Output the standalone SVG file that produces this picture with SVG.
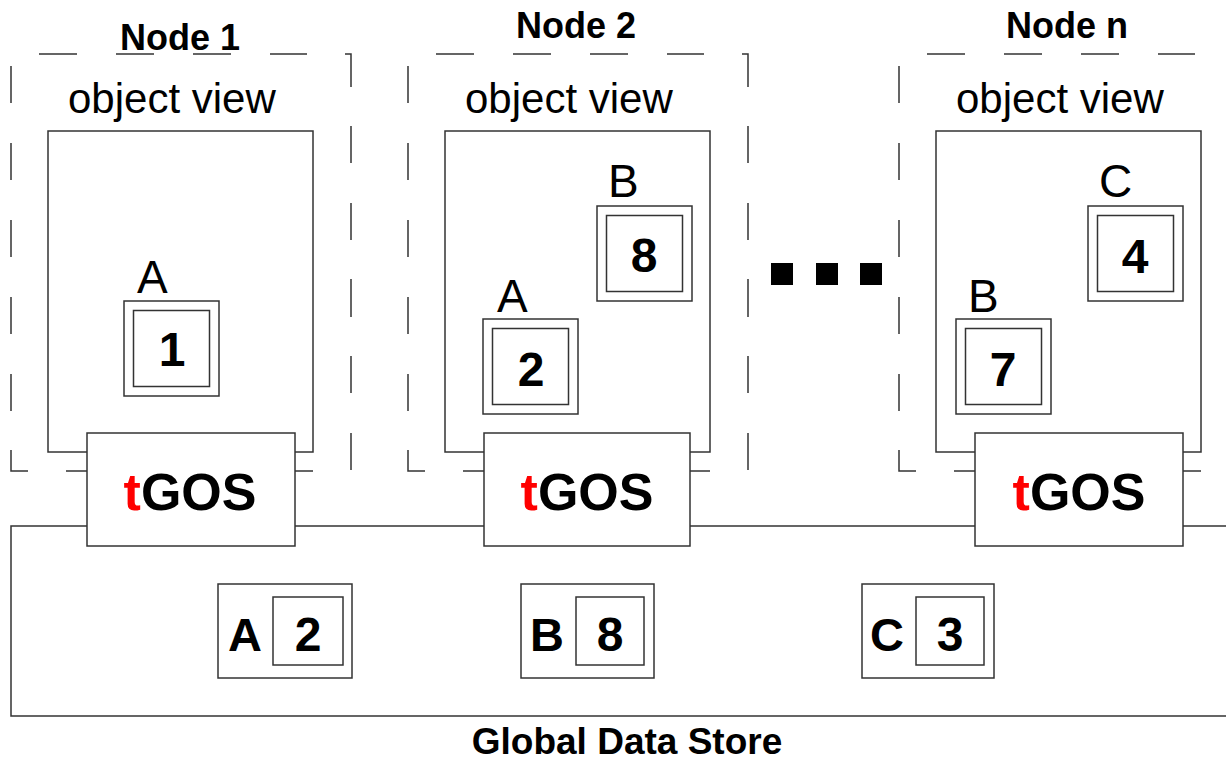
<svg xmlns="http://www.w3.org/2000/svg" width="1226" height="761" viewBox="0 0 1226 761">
  <style>
    .ln { fill: none; stroke: #333; stroke-width: 1.5; }
    .box { fill: #fff; stroke: #333; stroke-width: 1.5; }
    .dot { fill: #000; }
    .reg { font-family: "Liberation Sans", Arial, sans-serif; fill: #000; }
    .bold { font-family: "Liberation Sans", Arial, sans-serif; font-weight: bold; fill: #000; }
    .title { font-size: 36px; }
    .view { font-size: 42px; }
    .lbl { font-size: 46px; }
    .num { font-size: 48px; text-anchor: middle; }
    .gos { font-size: 52px; text-anchor: middle; }
    .red { fill: #ff0000; }
  </style>
  <defs>
    <!-- dashed node frame, 340 x 417, origin at its top-left corner -->
    <path id="frame" class="ln" d="M28,0h38M105,0h38M182,0h38M259,0h37M334,0h6v33
      M340,72v37M340,149v37M340,225v38M340,302v37M340,379v37
      M0,12v37M0,89v37M0,166v37M0,243v37M0,320v37M0,396v21h17
      M55,417h32M262,417h40"/>
    <!-- object: outer square with inset inner square -->
    <g id="obj">
      <rect class="box" x="0" y="0" width="95" height="95"/>
      <rect class="box" x="9.5" y="9.5" width="76" height="76"/>
    </g>
  </defs>

  <rect width="1226" height="761" fill="#fff"/>

  <!-- global data store outline; its top edge links the tGOS boxes -->
  <g id="connectors">
    <path class="ln" d="M1240,526H11V716H1240"/>
  </g>

  <g id="node1">
    <use href="#frame" x="11" y="54"/>
    <text class="bold title" x="120" y="50">Node 1</text>
    <text class="reg view" x="68" y="113">object view</text>
    <rect class="ln" x="48" y="131" width="265" height="321"/>
    <text class="reg lbl" x="137" y="293">A</text>
    <use href="#obj" x="124" y="301"/>
    <text class="bold num" x="172" y="366">1</text>
    <rect class="box" x="87" y="433" width="208" height="113"/>
    <text class="bold gos" x="190" y="510"><tspan class="red">t</tspan>GOS</text>
  </g>

  <g id="node2">
    <use href="#frame" x="408" y="54"/>
    <text class="bold title" x="516" y="38">Node 2</text>
    <text class="reg view" x="465" y="113">object view</text>
    <rect class="ln" x="445" y="131" width="265" height="321"/>
    <text class="reg lbl" x="608" y="197">B</text>
    <use href="#obj" x="597" y="206"/>
    <text class="bold num" x="644" y="272">8</text>
    <text class="reg lbl" x="497" y="312">A</text>
    <use href="#obj" x="483" y="319"/>
    <text class="bold num" x="531" y="386">2</text>
    <rect class="box" x="484" y="433" width="206" height="113"/>
    <text class="bold gos" x="587" y="510"><tspan class="red">t</tspan>GOS</text>
  </g>

  <g id="ellipsis">
    <rect class="dot" x="771" y="263" width="22" height="22"/>
    <rect class="dot" x="816" y="263" width="22" height="22"/>
    <rect class="dot" x="860" y="263" width="22" height="22"/>
  </g>

  <g id="noden">
    <use href="#frame" x="899" y="54"/>
    <text class="bold title" x="1006" y="38">Node n</text>
    <text class="reg view" x="956" y="113">object view</text>
    <rect class="ln" x="936" y="131" width="265" height="321"/>
    <text class="reg lbl" x="1099" y="197">C</text>
    <use href="#obj" x="1088" y="206"/>
    <text class="bold num" x="1135" y="273">4</text>
    <text class="reg lbl" x="968" y="312">B</text>
    <use href="#obj" x="956" y="319"/>
    <text class="bold num" x="1003" y="386">7</text>
    <rect class="box" x="975" y="433" width="208" height="113"/>
    <text class="bold gos" x="1079" y="510"><tspan class="red">t</tspan>GOS</text>
  </g>

  <g id="store">
    <g id="entryA">
      <rect class="box" x="218" y="584" width="134" height="94"/>
      <rect class="box" x="273" y="597" width="70" height="68"/>
      <text class="bold" font-size="47" x="228" y="651">A</text>
      <text class="bold num" font-size="47" x="308" y="651">2</text>
    </g>
    <g id="entryB">
      <rect class="box" x="521" y="584" width="133" height="94"/>
      <rect class="box" x="576" y="597" width="68" height="68"/>
      <text class="bold" font-size="47" x="530" y="651">B</text>
      <text class="bold num" font-size="47" x="610" y="651">8</text>
    </g>
    <g id="entryC">
      <rect class="box" x="862" y="584" width="132" height="94"/>
      <rect class="box" x="916" y="597" width="68" height="68"/>
      <text class="bold" font-size="47" x="870" y="651">C</text>
      <text class="bold num" font-size="47" x="950" y="651">3</text>
    </g>
    <text class="bold" font-size="37" text-anchor="middle" x="627" y="754">Global Data Store</text>
  </g>
</svg>
